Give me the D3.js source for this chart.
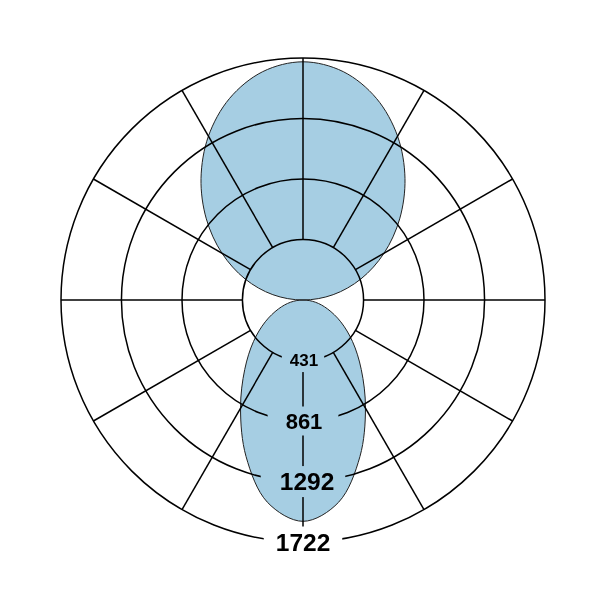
<!DOCTYPE html>
<html>
<head>
<meta charset="utf-8">
<script src="https://cdn.jsdelivr.net/npm/d3@7"></script>
<style>
  body { margin: 0; background: #fff; }
  svg { display: block; background: #fff; }
  .tick-label { font-family: "Liberation Sans", Arial, sans-serif; font-weight: bold; }
</style>
</head>
<body>
<svg id="chart" width="601" height="601"></svg>
<script>
// radial ticks (rings) and the spoke angles
const ticks = [431, 861, 1292, 1722]
const tickLabels = ['431', '861', '1292', '1722']
const spokeAngles = [0, 30, 60, 90, 120, 150, 180, 210, 240, 270, 300, 330]

// pattern, every 10 degrees (0 = top, clockwise)
const angles = [0, 10, 20, 30, 40, 50, 60, 70, 80, 90, 100, 110,
  120, 130, 140, 150, 160, 170, 180, 190, 200, 210, 220, 230,
  240, 250, 260, 270, 280, 290, 300, 310, 320, 330, 340, 350]
const values = [1695, 1650, 1527, 1346, 1129, 898, 666, 439, 218, 0, 89, 186,
  310, 460, 645, 889, 1185, 1461, 1575, 1461, 1185, 889, 645, 460,
  310, 186, 89, 0, 218, 439, 666, 898, 1129, 1346, 1527, 1650]

const cx = 303
const cy = 300
const outer = 242

const svg = d3.select('#chart')
const g = svg.append('g').attr('transform', `translate(${cx},${cy})`)

const r = d3.scaleLinear().domain([0, d3.max(ticks)]).range([0, outer])
const rad = d => d * Math.PI / 180
const fontSizes = [17, 22, 24.5, 24.5]
const labelNudge = [1, 1, 4, 0]
const padX = [7, 17, 15, 12]
const padY = 2

// grid: rings and spokes
const grid = g.append('g')
  .attr('fill', 'none')
  .attr('stroke', '#000')
  .attr('stroke-width', 1.5)

grid.selectAll('circle')
  .data(ticks)
  .enter()
  .append('circle')
  .attr('r', d => r(d))

grid.selectAll('line')
  .data(spokeAngles)
  .enter()
  .append('line')
  .attr('x1', d => Math.sin(rad(d)) * r(ticks[0]))
  .attr('y1', d => -Math.cos(rad(d)) * r(ticks[0]))
  .attr('x2', d => Math.sin(rad(d)) * r(d3.max(ticks)))
  .attr('y2', d => -Math.cos(rad(d)) * r(d3.max(ticks)))

// labels on white boxes that cut the grid lines
const labelG = g.append('g')
const boxes = labelG.append('g')
const labels = labelG.selectAll('text.tick-label')
  .data(ticks)
  .enter()
  .append('text')
  .attr('class', 'tick-label')
  .attr('x', (d, i) => labelNudge[i])
  .attr('y', d => r(d))
  .attr('text-anchor', 'middle')
  .attr('dominant-baseline', 'central')
  .style('font-size', (d, i) => fontSizes[i] + 'px')
  .attr('fill', '#000')
  .text((d, i) => tickLabels[i])

labels.each(function (d, i) {
  const b = this.getBBox()
  boxes.append('rect')
    .attr('x', -b.width / 2 - padX[i])
    .attr('y', b.y - padY)
    .attr('width', b.width + 2 * padX[i])
    .attr('height', b.height + 2 * padY)
    .attr('fill', '#fff')
})

// split the pattern into lobes at the zero points, keeping one zero per lobe
const points = angles.map((a, i) => ({ a, v: values[i] }))
const zeros = points.map((p, i) => p.v === 0 ? i : -1).filter(i => i >= 0)
const lobes = zeros.map((z, k) => {
  const next = zeros[(k + 1) % zeros.length]
  const out = []
  let i = z
  do {
    out.push(points[i])
    i = (i + 1) % points.length
  } while (i !== next)
  return out
})

const line = d3.lineRadial()
  .angle(d => rad(d.a))
  .radius(d => r(d.v))
  .curve(d3.curveCatmullRomClosed.alpha(0.5))

// lobes go on top, multiplied, so black lines stay black and white boxes turn blue
g.selectAll('path.lobe')
  .data(lobes)
  .enter()
  .append('path')
  .attr('class', 'lobe')
  .attr('d', line)
  .attr('fill', '#a6cee3')
  .attr('stroke', '#222')
  .attr('stroke-width', 1)
  .style('mix-blend-mode', 'multiply')
</script>
</body>
</html>
